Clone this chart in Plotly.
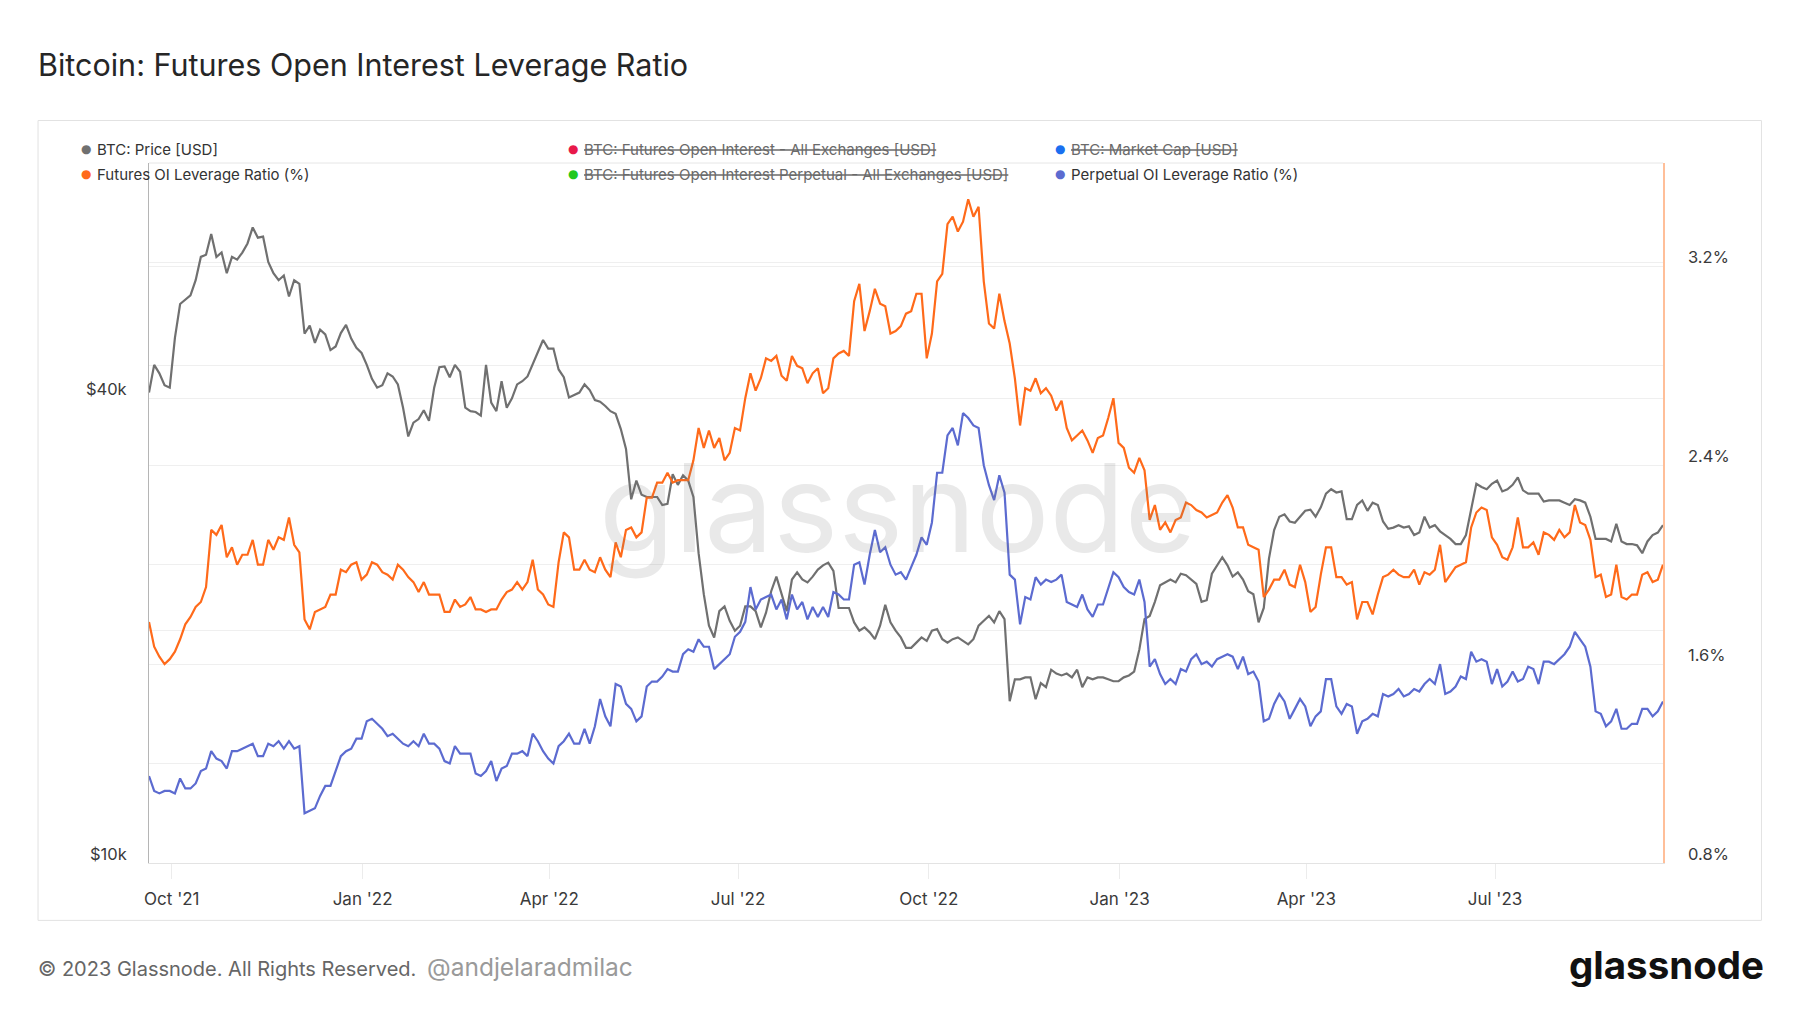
import pandas as pd
import plotly.graph_objects as go

# ---------------- data (2.5-day samples) ----------------
dates = pd.date_range("2021-09-20", periods=293, freq="60h")

btc_price_k = [
    40.7, 44.2, 43.1, 41.6, 41.3, 47.9, 53.0, 53.7, 54.4, 56.9,
    61.0, 61.4, 65.3, 61.0, 61.8, 58.1, 61.0, 60.5, 61.8, 63.5,
    66.6, 64.6, 64.8, 60.1, 58.1, 56.9, 57.7, 54.2, 56.9, 56.3,
    48.5, 49.7, 47.2, 49.1, 48.4, 46.2, 46.7, 48.6, 49.8, 47.8,
    46.5, 45.8, 44.2, 42.4, 41.3, 41.6, 43.1, 42.7, 41.7, 38.9,
    35.7, 37.2, 37.6, 38.6, 37.4, 41.3, 43.9, 44.0, 42.6, 44.2,
    43.3, 38.9, 38.5, 38.4, 38.0, 44.2, 39.5, 38.5, 42.1, 38.9,
    40.0, 41.7, 42.1, 42.7, 44.2, 46.0, 47.6, 46.4, 46.4, 43.6,
    42.6, 40.1, 40.4, 40.7, 41.7, 41.0, 39.8, 39.6, 39.1, 38.5,
    38.2, 36.5, 34.4, 29.6, 31.3, 30.0, 29.8, 29.8, 29.8, 29.1,
    29.2, 31.9, 30.9, 31.8, 31.3, 29.8, 25.2, 22.3, 20.3, 19.6,
    21.2, 21.5, 20.6, 20.0, 20.3, 21.5, 21.5, 21.2, 20.2, 21.1,
    22.5, 23.5, 22.3, 21.2, 23.3, 23.8, 23.3, 23.1, 23.5, 24.0,
    24.3, 24.5, 23.9, 21.4, 21.4, 21.4, 20.5, 20.0, 20.2, 19.9,
    19.5, 20.3, 21.6, 20.5, 20.0, 19.6, 19.0, 19.0, 19.3, 19.6,
    19.4, 20.0, 20.1, 19.5, 19.3, 19.5, 19.6, 19.4, 19.2, 19.5,
    20.3, 20.6, 20.9, 20.5, 21.2, 20.7, 16.2, 17.3, 17.3, 17.4,
    17.4, 16.3, 17.1, 16.9, 17.8, 17.6, 17.5, 17.6, 17.4, 17.8,
    16.9, 17.4, 17.3, 17.4, 17.4, 17.3, 17.2, 17.2, 17.4, 17.5,
    17.7, 18.9, 20.7, 20.9, 21.8, 22.9, 23.1, 23.3, 23.1, 23.7,
    23.6, 23.3, 23.0, 21.8, 21.9, 23.7, 24.3, 24.9, 24.3, 23.5,
    23.8, 23.3, 22.5, 22.3, 20.5, 21.4, 24.8, 27.0, 28.1, 28.3,
    27.7, 27.6, 28.1, 28.6, 28.7, 28.1, 28.9, 30.1, 30.5, 30.2,
    30.3, 27.9, 27.9, 29.1, 29.5, 28.6, 29.3, 29.1, 27.7, 27.1,
    27.2, 27.4, 27.2, 27.3, 26.6, 26.8, 28.1, 27.2, 27.4, 26.9,
    26.6, 26.3, 25.9, 25.9, 26.6, 28.6, 31.0, 30.7, 30.5, 31.0,
    31.3, 30.3, 30.5, 30.9, 31.6, 30.4, 30.1, 30.1, 30.1, 29.4,
    29.5, 29.5, 29.5, 29.3, 29.1, 29.6, 29.5, 29.3, 28.1, 26.3,
    26.3, 26.3, 26.1, 27.5, 26.1, 25.9, 25.9, 25.8, 25.2, 26.1,
    26.6, 26.8, 27.4,
]

futures_oi_leverage = [
    1.77, 1.67, 1.63, 1.60, 1.62, 1.65, 1.70, 1.76, 1.79, 1.83,
    1.85, 1.91, 2.14, 2.12, 2.16, 2.03, 2.07, 2.00, 2.04, 2.04,
    2.10, 2.00, 2.00, 2.10, 2.06, 2.11, 2.10, 2.19, 2.08, 2.05,
    1.78, 1.74, 1.81, 1.82, 1.83, 1.88, 1.88, 1.98, 1.97, 2.00,
    2.01, 1.94, 1.96, 2.01, 2.00, 1.97, 1.96, 1.94, 2.00, 1.98,
    1.95, 1.93, 1.89, 1.93, 1.88, 1.88, 1.88, 1.81, 1.81, 1.86,
    1.83, 1.84, 1.87, 1.82, 1.82, 1.81, 1.82, 1.82, 1.86, 1.89,
    1.90, 1.93, 1.90, 1.93, 2.02, 1.90, 1.88, 1.84, 1.83, 2.01,
    2.13, 2.11, 1.98, 1.98, 2.02, 1.98, 1.97, 2.03, 1.98, 1.95,
    2.09, 2.03, 2.14, 2.15, 2.11, 2.13, 2.27, 2.27, 2.33, 2.33,
    2.37, 2.33, 2.34, 2.34, 2.34, 2.42, 2.55, 2.47, 2.54, 2.47,
    2.51, 2.42, 2.45, 2.55, 2.54, 2.67, 2.77, 2.70, 2.75, 2.83,
    2.82, 2.84, 2.76, 2.74, 2.84, 2.80, 2.79, 2.73, 2.77, 2.79,
    2.69, 2.71, 2.83, 2.85, 2.86, 2.84, 3.06, 3.13, 2.94, 3.02,
    3.11, 3.05, 3.04, 2.93, 2.94, 2.96, 3.01, 3.02, 3.09, 3.09,
    2.83, 2.93, 3.14, 3.17, 3.37, 3.40, 3.34, 3.38, 3.47, 3.40,
    3.44, 3.14, 2.97, 2.95, 3.09, 2.98, 2.89, 2.75, 2.56, 2.71,
    2.70, 2.75, 2.69, 2.71, 2.68, 2.62, 2.66, 2.55, 2.50, 2.52,
    2.54, 2.50, 2.45, 2.51, 2.52, 2.59, 2.67, 2.49, 2.47, 2.39,
    2.37, 2.43, 2.38, 2.18, 2.24, 2.14, 2.17, 2.13, 2.18, 2.19,
    2.25, 2.24, 2.22, 2.21, 2.19, 2.20, 2.21, 2.25, 2.28, 2.23,
    2.15, 2.15, 2.08, 2.07, 2.06, 1.87, 1.90, 1.94, 1.94, 1.98,
    1.92, 1.91, 2.00, 1.93, 1.81, 1.83, 1.96, 2.07, 2.07, 1.95,
    1.95, 1.92, 1.93, 1.78, 1.85, 1.85, 1.80, 1.88, 1.95, 1.96,
    1.98, 1.96, 1.95, 1.95, 1.98, 1.92, 1.97, 1.96, 1.98, 2.08,
    1.93, 1.96, 1.99, 2.00, 2.01, 2.15, 2.21, 2.23, 2.22, 2.11,
    2.08, 2.03, 2.02, 2.07, 2.19, 2.07, 2.07, 2.09, 2.04, 2.13,
    2.12, 2.10, 2.14, 2.11, 2.13, 2.24, 2.17, 2.16, 2.10, 1.95,
    1.96, 1.87, 1.88, 2.00, 1.87, 1.86, 1.88, 1.88, 1.96, 1.97,
    1.93, 1.94, 2.00,
]

perpetual_oi_leverage = [
    1.15, 1.09, 1.08, 1.09, 1.09, 1.08, 1.14, 1.10, 1.10, 1.12,
    1.17, 1.18, 1.25, 1.22, 1.21, 1.18, 1.25, 1.25, 1.26, 1.27,
    1.28, 1.23, 1.23, 1.28, 1.27, 1.29, 1.26, 1.29, 1.26, 1.27,
    1.00, 1.01, 1.02, 1.07, 1.11, 1.11, 1.17, 1.23, 1.25, 1.26,
    1.30, 1.30, 1.37, 1.38, 1.36, 1.34, 1.31, 1.32, 1.30, 1.28,
    1.27, 1.29, 1.27, 1.32, 1.28, 1.28, 1.26, 1.21, 1.20, 1.27,
    1.24, 1.24, 1.24, 1.16, 1.15, 1.17, 1.21, 1.13, 1.18, 1.19,
    1.24, 1.24, 1.25, 1.23, 1.32, 1.29, 1.25, 1.22, 1.20, 1.27,
    1.29, 1.32, 1.28, 1.28, 1.34, 1.28, 1.35, 1.46, 1.39, 1.35,
    1.52, 1.51, 1.44, 1.42, 1.37, 1.39, 1.51, 1.53, 1.53, 1.55,
    1.58, 1.57, 1.57, 1.64, 1.66, 1.65, 1.70, 1.67, 1.67, 1.58,
    1.60, 1.62, 1.64, 1.71, 1.73, 1.77, 1.91, 1.82, 1.86, 1.87,
    1.88, 1.82, 1.86, 1.78, 1.88, 1.82, 1.85, 1.78, 1.83, 1.79,
    1.83, 1.79, 1.89, 1.88, 1.86, 1.86, 2.00, 2.01, 1.92, 2.04,
    2.14, 2.05, 2.07, 2.00, 1.96, 1.97, 1.94, 1.99, 2.04, 2.11,
    2.08, 2.17, 2.37, 2.37, 2.52, 2.55, 2.48, 2.61, 2.59, 2.56,
    2.55, 2.40, 2.32, 2.26, 2.36, 2.29, 1.96, 1.94, 1.76, 1.87,
    1.86, 1.95, 1.92, 1.94, 1.93, 1.94, 1.96, 1.85, 1.84, 1.83,
    1.88, 1.82, 1.79, 1.84, 1.84, 1.91, 1.97, 1.95, 1.91, 1.89,
    1.88, 1.94, 1.85, 1.59, 1.62, 1.56, 1.52, 1.54, 1.52, 1.58,
    1.57, 1.62, 1.64, 1.60, 1.61, 1.59, 1.62, 1.63, 1.64, 1.63,
    1.58, 1.63, 1.56, 1.57, 1.53, 1.37, 1.38, 1.44, 1.48, 1.45,
    1.38, 1.42, 1.46, 1.43, 1.35, 1.39, 1.41, 1.54, 1.54, 1.43,
    1.40, 1.44, 1.43, 1.32, 1.37, 1.38, 1.40, 1.39, 1.48, 1.47,
    1.48, 1.50, 1.47, 1.48, 1.50, 1.49, 1.52, 1.54, 1.52, 1.60,
    1.48, 1.49, 1.51, 1.55, 1.54, 1.65, 1.61, 1.62, 1.61, 1.52,
    1.58, 1.51, 1.53, 1.57, 1.53, 1.54, 1.59, 1.58, 1.52, 1.61,
    1.61, 1.60, 1.62, 1.64, 1.67, 1.73, 1.70, 1.67, 1.59, 1.41,
    1.40, 1.35, 1.37, 1.42, 1.34, 1.34, 1.36, 1.36, 1.42, 1.42,
    1.39, 1.41, 1.45,
]

x_tick_dates = ["2021-10-01", "2022-01-01", "2022-04-01", "2022-07-01",
                "2022-10-01", "2023-01-01", "2023-04-01", "2023-07-01"]
x_tick_labels = ["Oct '21", "Jan '22", "Apr '22", "Jul '22",
                 "Oct '22", "Jan '23", "Apr '23", "Jul '23"]
price_tick_vals = [10000, 20000, 40000, 60000]
price_tick_labels = ["$10k", "", "$40k", ""]
pct_tick_vals = [0.8, 1.2, 1.6, 2.0, 2.4, 2.8, 3.2]
pct_tick_labels = ["0.8%", "", "1.6%", "", "2.4%", "", "3.2%"]

legend_items = [
    ("BTC: Price [USD]", "#707070", False),
    ("BTC: Futures Open Interest - All Exchanges [USD]", "#e8194a", True),
    ("BTC: Market Cap [USD]", "#1a6ff0", True),
    ("Futures OI Leverage Ratio (%)", "#ff6a1a", False),
    ("BTC: Futures Open Interest Perpetual - All Exchanges [USD]", "#20c820", True),
    ("Perpetual OI Leverage Ratio (%)", "#5c6bd0", False),
]

# ---------------- layout geometry (pixels) ----------------
W, H = 1800, 1013
PL, PR, PT, PB = 149, 1663.5, 163, 863.3
FONT = "Inter, Roboto, 'Open Sans', sans-serif"


def fx(x):
    return (x - PL) / (PR - PL)


def fy(y):
    return (PB - y) / (PB - PT)


price_usd = [v * 1000 for v in btc_price_k]

fig = go.Figure()
fig.add_trace(go.Scatter(x=dates, y=price_usd, mode="lines", yaxis="y",
                         line=dict(color="#707070", width=2.2), name="BTC: Price [USD]"))
fig.add_trace(go.Scatter(x=dates, y=futures_oi_leverage, mode="lines", yaxis="y2",
                         line=dict(color="#ff6a1a", width=2.2), name="Futures OI Leverage Ratio (%)"))
fig.add_trace(go.Scatter(x=dates, y=perpetual_oi_leverage, mode="lines", yaxis="y2",
                         line=dict(color="#5c6bd0", width=2.2), name="Perpetual OI Leverage Ratio (%)"))

annotations = []
shapes = []

# title
annotations.append(dict(text="Bitcoin: Futures Open Interest Leverage Ratio", xref="paper", yref="paper",
                        x=fx(36), y=fy(64), xanchor="left", yanchor="middle", showarrow=False,
                        font=dict(family=FONT, size=30.5, color="#262626")))
# watermark
annotations.append(dict(text="glassnode", xref="paper", yref="paper", x=fx(898), y=fy(508),
                        xanchor="center", yanchor="middle", showarrow=False,
                        font=dict(family=FONT, size=123, color="rgba(120,120,120,0.16)")))
# footer
annotations.append(dict(text="© 2023 Glassnode. All Rights Reserved.", xref="paper", yref="paper",
                        x=fx(36), y=fy(969), xanchor="left", yanchor="middle", showarrow=False,
                        font=dict(family=FONT, size=20, color="#666666")))
annotations.append(dict(text="@andjelaradmilac", xref="paper", yref="paper",
                        x=fx(425), y=fy(967), xanchor="left", yanchor="middle", showarrow=False,
                        font=dict(family=FONT, size=24.5, color="#9a9a9a")))
annotations.append(dict(text="<b>glassnode</b>", xref="paper", yref="paper",
                        x=fx(1767), y=fy(965), xanchor="right", yanchor="middle", showarrow=False,
                        font=dict(family=FONT, size=38.5, color="#111111")))

# legend (manual)
col_x = [86, 573, 1060]
row_y = [149, 174.5]
for i, (label, color, hidden) in enumerate(legend_items):
    cx = col_x[i % 3]
    cy = row_y[i // 3]
    annotations.append(dict(text="●", xref="paper", yref="paper", x=fx(cx), y=fy(cy),
                            xanchor="center", yanchor="middle", showarrow=False,
                            font=dict(family="DejaVu Sans", size=12, color=color)))
    txt = f"<s>{label}</s>" if hidden else label
    annotations.append(dict(text=txt, xref="paper", yref="paper", x=fx(cx + 9), y=fy(cy),
                            xanchor="left", yanchor="middle", showarrow=False,
                            font=dict(family=FONT, size=15, color="#6a6a6a" if hidden else "#333333")))

# outer frame
shapes.append(dict(type="rect", xref="paper", yref="paper", x0=fx(38), x1=fx(1762), y0=fy(120.5), y1=fy(920.7),
                   line=dict(color="#e2e2e2", width=1), fillcolor="rgba(0,0,0,0)", layer="below"))
# top border of plot area
shapes.append(dict(type="line", xref="paper", yref="paper", x0=0, x1=1, y0=1, y1=1,
                   line=dict(color="#e6e6e6", width=1), layer="below"))

fig.update_layout(
    width=W, height=H,
    margin=dict(l=PL, r=W - PR, t=PT, b=H - PB, pad=0),
    paper_bgcolor="white", plot_bgcolor="white",
    showlegend=False,
    font=dict(family=FONT, color="#333333"),
    xaxis=dict(type="date", range=["2021-09-20", "2023-09-20"],
               tickmode="array", tickvals=x_tick_dates, ticktext=x_tick_labels,
               showgrid=False, zeroline=False, showline=True, linecolor="#e3e3e3", linewidth=1,
               ticks="outside", ticklen=15, tickcolor="#ececec", tickwidth=1,
               ticklabelstandoff=6,
               tickfont=dict(family=FONT, size=17, color="#3a3a3a")),
    yaxis=dict(type="log", range=[4, 4.907], tickmode="array",
               tickvals=price_tick_vals, ticktext=price_tick_labels,
               showgrid=True, gridcolor="#efefef", gridwidth=1, zeroline=False,
               showline=True, linecolor="#b5b5b5", linewidth=1, ticks="",
               ticklabelshift=-9, ticklabelstandoff=18,
               tickfont=dict(family=FONT, size=16.5, color="#3a3a3a")),
    yaxis2=dict(overlaying="y", side="right", range=[0.8, 3.616], tickmode="array",
                tickvals=pct_tick_vals, ticktext=pct_tick_labels,
                showgrid=True, gridcolor="#efefef", gridwidth=1, zeroline=False,
                showline=True, linecolor="#ffbf99", linewidth=1.5, ticks="",
                ticklabelshift=-9, ticklabelstandoff=20,
                tickfont=dict(family=FONT, size=16.5, color="#3a3a3a")),
    annotations=annotations,
    shapes=shapes,
)

fig.write_html("out.html", config={"displayModeBar": False},
               post_script="document.body.style.margin='0';document.body.style.overflow='hidden';")
